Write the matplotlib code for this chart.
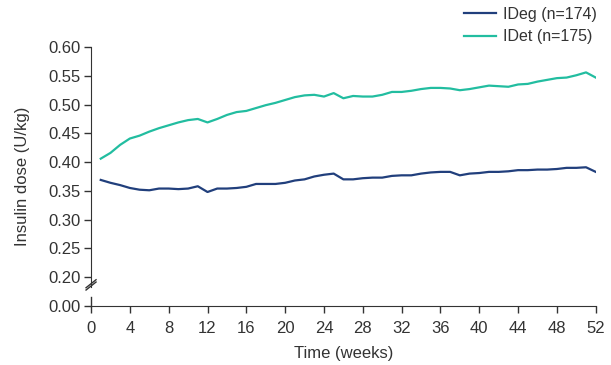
import numpy as np
import matplotlib.pyplot as plt

plt.rcParams['font.family'] = ['Liberation Sans', 'DejaVu Sans']

weeks = list(range(1, 53))

ideg = [0.369, 0.364, 0.360, 0.355, 0.352, 0.351, 0.354, 0.354, 0.353, 0.354,
        0.358, 0.348, 0.354, 0.354, 0.355, 0.357, 0.362, 0.362, 0.362, 0.364,
        0.368, 0.370, 0.375, 0.378, 0.380, 0.370, 0.370, 0.372, 0.373, 0.373,
        0.376, 0.377, 0.377, 0.380, 0.382, 0.383, 0.383, 0.377, 0.380, 0.381,
        0.383, 0.383, 0.384, 0.386, 0.386, 0.387, 0.387, 0.388, 0.390, 0.390,
        0.391, 0.383]

idet = [0.406, 0.416, 0.430, 0.441, 0.446, 0.453, 0.459, 0.464, 0.469, 0.473,
        0.475, 0.469, 0.475, 0.482, 0.487, 0.489, 0.494, 0.499, 0.503, 0.508,
        0.513, 0.516, 0.517, 0.514, 0.520, 0.511, 0.515, 0.514, 0.514, 0.517,
        0.522, 0.522, 0.524, 0.527, 0.529, 0.529, 0.528, 0.525, 0.527, 0.530,
        0.533, 0.532, 0.531, 0.535, 0.536, 0.540, 0.543, 0.546, 0.547, 0.551,
        0.556, 0.547]

yticks = [0.15, 0.20, 0.25, 0.30, 0.35, 0.40, 0.45, 0.50, 0.55, 0.60]
ylabels = ['0.00', '0.20', '0.25', '0.30', '0.35', '0.40', '0.45', '0.50', '0.55', '0.60']
xticks = list(range(0, 53, 4))

dark = '#333333'
fig = plt.figure(figsize=(6.11, 3.65), dpi=100)
ax = fig.add_axes([0.149, 0.162, 0.826, 0.709])

ax.plot(weeks, ideg, color='#213f7c', lw=1.6, label='IDeg (n=174)')
ax.plot(weeks, idet, color='#22bda0', lw=1.6, label='IDet (n=175)')

ax.set_xlim(0, 52)
ax.set_ylim(0.15, 0.60)
ax.set_xticks(xticks)
ax.set_yticks(yticks)
ax.set_yticklabels(ylabels)
ax.tick_params(direction='out', length=5, width=1, colors=dark, labelsize=12)
ax.tick_params(axis='x', pad=6)
ax.tick_params(axis='y', pad=2.5)

for s in ['top', 'right']:
    ax.spines[s].set_visible(False)
for s in ['left', 'bottom']:
    ax.spines[s].set_color(dark)
ax.spines['left'].set_bounds(0.183, 0.60)

# axis break on y
ax.plot([0, 0], [0, 0.015 / 0.45], transform=ax.transAxes, color=dark, lw=1, clip_on=False)
dx = 5 / 505
dy = 4 / 259
for yc in [0.0385 / 0.45, 0.0345 / 0.45]:
    ax.plot([-dx, dx], [yc - dy, yc + dy], transform=ax.transAxes,
            color=dark, lw=1, clip_on=False)

ax.set_xlabel('Time (weeks)', fontsize=12, color=dark, labelpad=7)
ax.set_ylabel('Insulin dose (U/kg)', fontsize=12, color=dark, labelpad=13)

fig.legend(loc='upper right', bbox_to_anchor=(1.0, 1.02), frameon=False,
           fontsize=11.5, handlelength=2.0, handletextpad=0.4, labelspacing=0.45,
           labelcolor=dark)

fig.savefig('out.png', dpi=100)
